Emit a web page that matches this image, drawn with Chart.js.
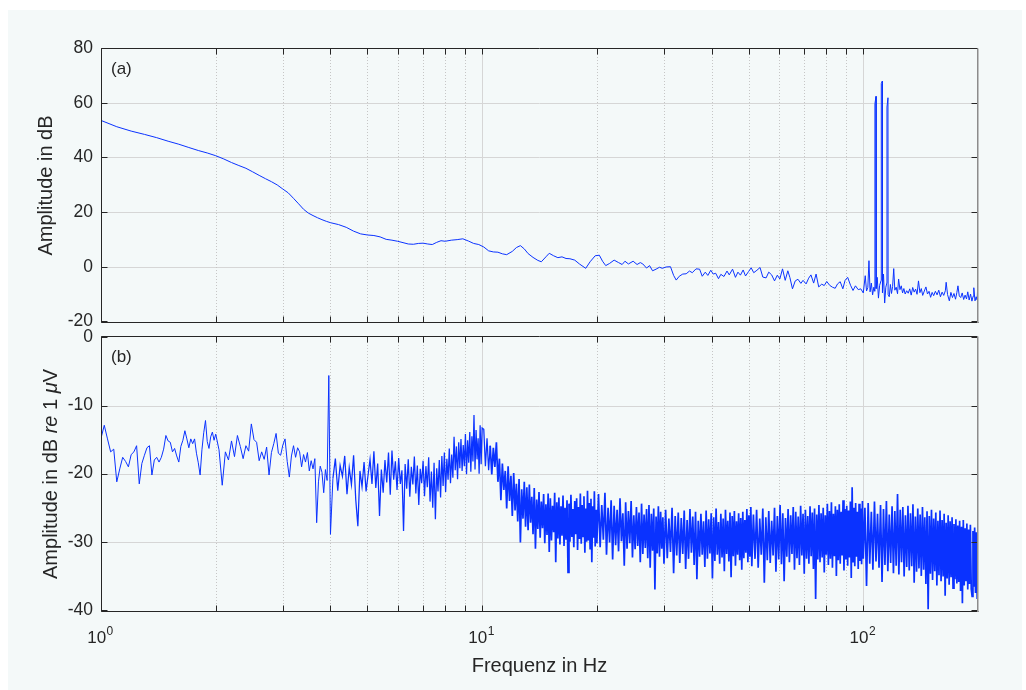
<!DOCTYPE html>
<html>
<head>
<meta charset="utf-8">
<script src="https://cdn.jsdelivr.net/npm/chart.js@4/dist/chart.umd.min.js"></script>
<style>
  html, body { margin: 0; padding: 0; background: #fff; }
  #fig { position: absolute; left: 8px; top: 10px; width: 1014px; height: 680px; background: #f4f9f9; }
  canvas { position: absolute; left: 0; }
  #top { top: 0; }
  #bot { top: 310px; }
</style>
</head>
<body>
<div id="fig"></div>
<canvas id="top" width="1026" height="342"></canvas>
<canvas id="bot" width="1026" height="380"></canvas>
<script>
// axes
var yTicksTop = [-20, 0, 20, 40, 60, 80];
var yTicksBot = [-40, -30, -20, -10, 0];
var xMajor = [1, 10, 100];
var xMinor = [2, 3, 4, 5, 6, 7, 8, 9, 20, 30, 40, 50, 60, 70, 80, 90];
var xTickExp = ['0', '1', '2'];

// (a) amplitude in dB
var freqTop = [
  1,1.1,1.2,1.3,1.4,1.5,1.6,1.7,1.8,1.9,
  2,2.1,2.2,2.3,2.4,2.5,2.6,2.7,2.8,2.9,
  3,3.1,3.2,3.3,3.4,3.5,3.6,3.7,3.8,3.9,
  4,4.2,4.4,4.6,4.8,5,5.2,5.4,5.6,5.8,
  6,6.2,6.4,6.6,6.8,7,7.2,7.4,7.6,7.8,
  8,8.3,8.6,8.9,9.2,9.5,9.8,10.1,10.4,10.7,
  11,11.3,11.6,12,12.3,12.6,12.9,13.2,13.6,14,
  14.3,14.7,15,15.4,15.8,16.2,16.6,17,17.5,18,
  18.7,19.2,19.8,20.3,20.7,21.1,21.6,22.2,22.8,23.3,
  23.7,24.2,24.9,25.5,26,26.4,27,27.5,28,28.6,
  29.2,29.7,30.4,31.2,31.8,32.3,32.9,33.6,34.3,35,
  35.6,36.4,37.2,37.8,38.5,39.1,39.8,40.4,41,41.7,
  42.3,43.1,43.9,44.5,45.4,46.2,46.9,47.6,48.4,49.1,
  50,50.8,51.6,52.6,53.6,54.5,55.6,56.5,57.5,58.5,
  59.5,60.4,61.4,62.4,63.4,64.2,65.2,66.3,67.4,68.6,
  69.5,70.8,71.9,72.9,74.1,75.2,76.4,77.8,79,80.2,
  81.6,83,84.4,85.6,87,88.4,89.6,91,92.6,94,
  95.4,97,98.5,100,101.2,102,102.8,103.5,104.2,105,
  105.8,106.6,107.2,107.3,108,108.1,108.8,109.6,110.4,111.4,
  111.5,112.2,112.3,113,113.8,114.6,115.3,115.4,116.1,116.2,
  117,117.8,118.6,119.4,120.2,121,122,123,123.8,124.8,
  125.8,126.8,127.8,128.8,130,131.2,132.4,133.6,134.8,136,
  137.2,138.4,139.6,140.8,142,143.2,144.6,146,147.4,148.8,
  150.2,151.6,153,154.6,156.2,157.8,159.4,161,162.6,164.2,
  165,166.4,168.2,169.8,171.4,173,174.6,176,177.2,178.6,
  180.2,181.8,183.4,185,186.6,188,189.6,191.2,192.8,194.2,
  195,196.4,197.8,199,200
];
var ampTop = [
  53.5,51.2,49.6,48.4,47.2,45.9,44.8,43.6,42.5,41.6,
  40.6,39.4,38.1,37.0,36.0,34.7,33.4,32.2,31.1,29.9,
  28.4,27.0,25.0,23.0,21.0,19.6,18.7,17.9,17.2,16.6,
  16.1,15.4,14.4,13.0,12.0,11.6,11.4,10.9,10.0,9.7,
  9.3,8.8,8.3,8.2,8.5,8.6,8.3,8.1,8.9,9.5,
  9.3,9.7,9.9,10.2,9.4,8.5,8.1,7.2,5.8,5.4,
  5.3,4.7,4.4,5.6,7.0,7.7,6.5,4.8,3.4,2.3,
  1.8,3.6,4.9,4.0,3.3,3.6,3.0,2.9,2.4,1.0,
  -0.6,1.8,4.0,4.2,2.0,0.4,1.2,2.4,1.5,0.8,
  2.0,1.0,2.0,0.8,1.5,1.0,-0.5,0.4,-1.5,-0.9,
  -0.2,-0.6,-0.1,0.0,-3.2,-4.9,-3.5,-2.7,-2.6,-1.6,
  -2.2,-0.8,-0.9,-3.5,-2.0,-3.2,-1.3,-2.7,-2.4,-4.4,
  -2.8,-3.6,-1.6,-3.0,-0.9,-3.9,-2.0,-3.1,-1.2,-3.4,
  -1.8,-0.4,-2.2,-1.3,-0.3,-3.8,-4.1,-2.0,-3.0,-5.2,
  -3.1,-4.5,-0.8,-5.0,-1.5,-4.0,-8.1,-5.2,-4.6,-6.1,
  -5.0,-6.3,-4.2,-3.0,-6.0,-2.7,-7.4,-6.4,-6.9,-5.4,
  -6.8,-7.5,-7.9,-6.3,-5.5,-8.1,-5.0,-3.9,-6.8,-8.7,
  -7.0,-8.4,-8.1,-9.6,-3.3,-8.9,-7.6,2.2,-9.2,-6.0,
  -10.3,-7.5,-9.0,59.6,62.3,-8.0,-3.9,-11.5,-6.8,-5.0,
  67.0,67.9,-9.5,-2.7,-13.3,-7.5,-6.0,58.4,61.8,-10.2,
  -11.0,-6.5,-9.8,-7.2,-0.7,-8.6,-7.5,-9.9,-4.5,-8.4,
  -7.0,-9.6,-8.0,-10.0,-8.8,-9.7,-8.1,-10.4,-7.6,-9.3,
  -8.2,-10.1,-5.2,-9.5,-8.0,-10.5,-8.9,-7.4,-10.0,-9.0,
  -11.2,-9.4,-10.6,-9.0,-10.3,-8.6,-11.0,-9.3,-10.5,-8.8,
  -5.7,-10.2,-12.5,-9.4,-11.3,-9.8,-11.9,-9.5,-7.0,-10.7,
  -11.3,-9.6,-12.0,-10.4,-11.8,-9.2,-12.2,-10.0,-12.6,-10.8,
  -7.7,-12.5,-11.0,-12.2,-4.5
];

// (b) amplitude in dB re 1 uV, read band by band
var fB1 = [1,1.02,1.04,1.06,1.08,1.1,1.12,1.14,1.16,1.18,1.2,1.22,1.24,1.26,1.28,1.3,1.32,1.34,1.36,1.38,
  1.4,1.42,1.44,1.46,1.48,1.5,1.52,1.54,1.56,1.58,1.6,1.62,1.64,1.66,1.68,1.7,1.72,1.74,1.76,1.78,
  1.8,1.82,1.84,1.86,1.88,1.9,1.92,1.94,1.96,1.98,2];
var aB1 = [-14.8,-12.9,-14.9,-16.8,-16.4,-21.2,-19.3,-17.6,-18.2,-19.0,-17.2,-16.8,-15.9,-21.5,-18.5,-17.3,-16.2,-15.9,-20.2,-18.0,
  -17.6,-18.3,-17.6,-16.4,-14.4,-15.2,-15.4,-16.8,-16.3,-17.4,-18.3,-16.0,-15.1,-13.7,-14.9,-16.2,-14.9,-15.6,-14.9,-17.0,
  -18.4,-20.2,-16.5,-14.0,-12.2,-15.3,-16.3,-14.6,-13.9,-15.1,-14.2];

var fB2 = [2.04,2.08,2.12,2.16,2.2,2.24,2.28,2.32,2.36,2.4,2.44,2.48,2.52,2.56,2.6,2.64,2.68,2.72,2.76,2.8,
  2.84,2.88,2.92,2.96,3,3.04,3.08,3.12,3.16,3.2,3.24,3.28,3.32,3.36,3.4,3.44,3.48,3.52,3.56,3.6,
  3.64,3.68,3.72,3.76,3.8,3.84,3.88,3.92,3.96,4];
var aB2 = [-16.5,-21.7,-16.8,-18.0,-15.2,-17.5,-14.4,-16.0,-17.8,-15.9,-16.7,-12.7,-15.0,-15.4,-18.1,-16.8,-17.9,-16.1,-20.2,-16.9,
  -15.6,-14.1,-17.0,-17.3,-15.8,-14.9,-18.2,-20.5,-17.4,-15.9,-17.6,-16.2,-16.8,-19.0,-17.2,-18.3,-16.9,-19.6,-18.1,-19.3,
  -17.8,-27.2,-21.2,-18.9,-19.8,-22.8,-19.4,-21.0,-5.6,-28.9];

var fB3 = [4.06,4.12,4.18,4.24,4.3,4.36,4.42,4.48,4.54,4.6,4.66,4.72,4.78,4.84,4.9,4.96,5.02,5.08,5.14,5.2,
  5.26,5.32,5.38,5.44,5.5,5.56,5.62,5.68,5.74,5.8,5.86,5.92,5.98,6.04,6.1,6.16,6.22,6.28,6.34,6.4,
  6.46,6.52,6.58,6.64,6.7,6.76,6.82,6.88,6.94,7,7.06,7.12,7.18,7.24,7.3,7.36,7.42,7.48,7.54,7.6,
  7.66,7.72,7.78,7.84,7.9,7.96,8.02,8.08,8.14,8.2,8.26,8.32,8.38,8.44,8.5,8.56,8.62,8.68,8.74,8.8,
  8.86,8.92,8.98,9.04,9.1,9.16,9.22,9.28,9.34,9.4,9.46,9.52,9.58,9.64,9.7,9.76,9.82,9.88,9.94,10];
var aB3 = [-20.7,-17.8,-22.5,-18.8,-20.4,-17.4,-23.0,-19.1,-21.6,-17.3,-23.8,-27.7,-19.6,-21.9,-18.3,-22.6,-20.2,-17.9,-21.5,-16.7,
  -22.1,-18.5,-26.2,-19.4,-22.8,-18.0,-21.3,-16.9,-23.1,-16.6,-20.9,-18.2,-22.4,-17.7,-21.5,-19.5,-28.4,-18.6,-22.2,-17.9,
  -23.4,-19.0,-21.6,-17.5,-22.9,-18.8,-24.6,-19.3,-21.4,-18.1,-23.3,-18.9,-22.0,-17.6,-24.1,-19.7,-25.0,-18.4,-26.7,-19.2,
  -22.6,-18.0,-23.5,-17.4,-21.8,-16.9,-22.7,-17.8,-20.9,-16.3,-21.4,-17.2,-20.6,-14.6,-19.5,-16.0,-20.8,-15.4,-19.2,-14.9,
  -19.6,-15.8,-18.9,-14.2,-20.1,-15.1,-18.4,-13.9,-19.7,-14.5,-18.2,-11.4,-19.4,-13.6,-17.9,-14.8,-20.0,-12.9,-18.6,-13.3];

var fB4 = [10.1,10.2,10.3,10.4,10.5,10.6,10.7,10.8,10.9,11,11.1,11.2,11.3,11.4,11.5,11.6,11.7,11.8,11.9,12,
  12.1,12.2,12.3,12.4,12.5,12.6,12.7,12.8,12.9,13,13.1,13.2,13.3,13.4,13.5,13.6,13.7,13.8,13.9,14,
  14.1,14.2,14.3,14.4,14.5,14.6,14.7,14.8,14.9,15,15.1,15.2,15.3,15.4,15.5,15.6,15.7,15.8,15.9,16,
  16.1,16.2,16.3,16.4,16.5,16.6,16.7,16.8,16.9,17,17.1,17.2,17.3,17.4,17.5,17.6,17.7,17.8,17.9,18,
  18.1,18.2,18.3,18.4,18.5,18.6,18.7,18.8,18.9,19,19.1,19.2,19.3,19.4,19.5,19.6,19.7,19.8,19.9,20];
var aB4 = [-13.5,-18.9,-14.8,-19.5,-15.9,-20.1,-16.2,-19.0,-15.4,-21.2,-17.8,-23.9,-18.5,-22.4,-19.6,-25.1,-18.9,-24.0,-20.3,-26.2,
  -19.9,-25.4,-21.5,-27.0,-20.8,-30.1,-22.3,-26.6,-21.2,-27.8,-22.0,-28.3,-21.6,-27.2,-23.4,-28.9,-22.1,-31.0,-23.8,-28.1,
  -22.7,-29.4,-24.1,-28.0,-23.0,-30.2,-24.5,-29.0,-22.9,-31.5,-23.6,-29.8,-24.7,-28.6,-22.8,-33.0,-24.2,-29.5,-23.5,-30.4,
  -24.8,-29.1,-23.2,-30.6,-25.0,-29.7,-23.9,-34.5,-24.4,-30.0,-23.1,-29.3,-25.2,-30.8,-24.0,-28.9,-23.6,-31.2,-24.9,-29.6,
  -22.9,-30.3,-24.6,-29.2,-23.3,-31.6,-25.1,-30.0,-22.5,-29.8,-24.3,-31.0,-23.7,-33.0,-24.8,-29.4,-22.6,-30.7,-25.3,-30.2];

var fB5 = [20.2,20.4,20.6,20.8,21,21.2,21.4,21.6,21.8,22,22.2,22.4,22.6,22.8,23,23.2,23.4,23.6,23.8,24,
  24.2,24.4,24.6,24.8,25,25.2,25.4,25.6,25.8,26,26.2,26.4,26.6,26.8,27,27.2,27.4,27.6,27.8,28,
  28.2,28.4,28.6,28.8,29,29.2,29.4,29.6,29.8,30];
var aB5 = [-23.0,-30.8,-24.6,-29.7,-22.8,-31.9,-25.0,-30.1,-23.9,-32.6,-24.7,-30.5,-25.3,-31.4,-23.6,-29.9,-25.8,-33.5,-24.2,-31.0,
  -25.5,-30.2,-24.0,-32.3,-26.1,-31.1,-24.9,-30.6,-25.7,-33.0,-24.4,-31.8,-26.0,-30.9,-25.2,-32.4,-24.6,-33.8,-25.9,-31.3,
  -25.1,-37.0,-26.3,-31.7,-24.8,-32.2,-25.6,-31.0,-26.4,-33.2];

var fB6 = [30.3,30.6,30.9,31.2,31.5,31.8,32.1,32.4,32.7,33,33.3,33.6,33.9,34.2,34.5,34.8,35.1,35.4,35.7,36,
  36.3,36.6,36.9,37.2,37.5,37.8,38.1,38.4,38.7,39,39.3,39.6,39.9,40.2,40.5,40.8,41.1,41.4,41.7,42,
  42.3,42.6,42.9,43.2,43.5,43.8,44.1,44.4,44.7,45,45.3,45.6,45.9,46.2,46.5,46.8,47.1,47.4,47.7,48,
  48.3,48.6,48.9,49.2,49.5,49.8,50.1,50.4,50.7,51];
var aB6 = [-25.3,-32.4,-26.6,-31.5,-25.0,-34.6,-26.2,-32.0,-25.7,-33.1,-26.5,-31.8,-25.4,-34.0,-26.8,-32.5,-25.2,-31.6,-26.3,-33.4,
  -25.6,-35.5,-26.9,-32.2,-25.9,-31.9,-27.0,-33.7,-25.4,-32.5,-26.7,-31.7,-25.8,-35.4,-26.4,-32.8,-25.1,-31.9,-27.1,-33.2,
  -25.9,-32.3,-26.6,-34.3,-25.3,-31.8,-26.9,-32.9,-25.7,-35.2,-26.2,-32.1,-25.5,-33.5,-27.0,-31.9,-25.8,-32.7,-26.5,-34.1,
  -25.6,-32.4,-26.8,-31.6,-25.2,-33.0,-26.1,-32.2,-24.9,-33.6];

var fB7 = [51.5,52,52.5,53,53.5,54,54.5,55,55.5,56,56.5,57,57.5,58,58.5,59,59.5,60,60.5,61,
  61.5,62,62.5,63,63.5,64,64.5,65,65.5,66,66.5,67,67.5,68,68.5,69,69.5,70,70.5,71,
  71.5,72,72.5,73,73.5,74,74.5,75,75.5,76,76.5,77,77.5,78,78.5,79,79.5,80,80.5,81,
  81.5,82,82.5,83,83.5,84,84.5,85,85.5,86,86.5,87,87.5,88,88.5,89,89.5,90,90.5,91,
  91.5,92,92.5,93,93.5,94,94.5,95,95.5,96,96.5,97,97.5,98,98.5,99,99.5,100];
var aB7 = [-26.0,-32.5,-25.3,-33.8,-26.6,-31.9,-25.1,-36.0,-26.4,-32.7,-25.5,-33.1,-26.9,-32.0,-25.0,-34.4,-26.2,-32.6,-24.6,-33.3,
  -25.8,-35.8,-26.5,-32.2,-25.2,-33.0,-26.1,-31.8,-24.9,-34.1,-25.6,-32.4,-26.3,-33.4,-24.7,-32.0,-25.9,-34.7,-25.3,-32.5,
  -26.2,-33.2,-24.8,-32.1,-25.7,-34.0,-25.1,-38.4,-26.0,-32.6,-24.6,-33.0,-25.8,-32.3,-25.0,-34.5,-26.1,-31.9,-24.4,-33.4,
  -25.5,-32.5,-24.2,-33.8,-25.9,-32.1,-24.8,-35.0,-25.3,-32.7,-24.5,-33.2,-25.6,-32.0,-23.9,-34.2,-25.2,-32.6,-24.7,-33.5,
  -25.4,-32.3,-24.1,-35.3,-22.0,-32.9,-25.0,-33.6,-24.3,-32.2,-25.6,-34.0,-24.4,-32.8,-25.1,-33.3,-24.0,-32.5];

var fB8 = [101,102,103,104,105,106,107,108,109,110,111,112,113,114,115,116,117,118,119,120,
  121,122,123,124,125,126,127,128,129,130,131,132,133,134,135,136,137,138,139,140,
  141,142,143,144,145,146,147,148,149,150,151,152,153,154,155,156,157,158,159,160,
  161,162,163,164,165,166,167,168,169,170,171,172,173,174,175,176,177,178,179,180,
  181,182,183,184,185,186,187,188,189,190,191,192,193,194,195,196,197,198,199,200];
var aB8 = [-25.0,-36.5,-24.3,-33.2,-25.6,-34.1,-24.1,-32.9,-25.9,-33.8,-24.6,-35.9,-25.2,-33.4,-24.0,-34.3,-26.0,-33.1,-24.8,-34.6,
  -25.5,-33.5,-23.0,-34.8,-25.3,-33.0,-24.9,-35.1,-26.1,-33.7,-24.7,-34.2,-25.8,-33.6,-24.5,-36.0,-26.3,-34.4,-25.1,-33.9,
  -26.0,-35.0,-24.9,-34.1,-26.4,-36.2,-25.5,-39.9,-26.2,-34.7,-25.3,-35.6,-26.6,-34.3,-25.7,-36.4,-26.9,-34.9,-25.4,-35.8,
  -26.8,-35.1,-25.9,-37.9,-27.2,-35.4,-26.1,-36.3,-27.0,-35.2,-26.4,-36.8,-27.4,-35.5,-26.7,-36.1,-27.6,-35.9,-26.9,-37.2,
  -27.8,-39.0,-26.8,-36.4,-28.0,-35.8,-27.3,-37.0,-28.2,-36.2,-27.5,-36.9,-38.0,-28.4,-36.6,-27.9,-37.5,-28.6,-38.4,-27.7];

var freqBot = [].concat(fB1, fB2, fB3, fB4, fB5, fB6, fB7, fB8);
var ampBot = [].concat(aB1, aB2, aB3, aB4, aB5, aB6, aB7, aB8);

var FONT = '"Liberation Sans", Arial, Helvetica, sans-serif';
var INK = '#262626';
var BLUE = '#0a32ff';

function pts(xs, ys) {
  return xs.map(function (f, i) { return { x: f, y: ys[i] }; });
}

function line(ctx, x1, y1, x2, y2) {
  ctx.beginPath();
  ctx.moveTo(x1, y1);
  ctx.lineTo(x2, y2);
  ctx.stroke();
}

function rotatedText(ctx, parts, cx, cy, size) {
  ctx.save();
  ctx.translate(cx, cy);
  ctx.rotate(-Math.PI / 2);
  ctx.textAlign = 'left';
  ctx.textBaseline = 'middle';
  ctx.fillStyle = INK;
  var total = 0;
  parts.forEach(function (p) {
    ctx.font = (p[1] ? 'italic ' : '') + size + 'px ' + FONT;
    total += ctx.measureText(p[0]).width;
  });
  var cur = -total / 2;
  parts.forEach(function (p) {
    ctx.font = (p[1] ? 'italic ' : '') + size + 'px ' + FONT;
    ctx.fillText(p[0], cur, 0);
    cur += ctx.measureText(p[0]).width;
  });
  ctx.restore();
}

// grid, box, ticks and texts in the MATLAB look
function makeFrame(o) {
  return {
    id: 'frame' + o.tag,
    beforeDatasetsDraw: function (chart) {
      var ctx = chart.ctx, a = chart.chartArea, x = chart.scales.x, y = chart.scales.y;
      ctx.save();
      ctx.lineWidth = 1;
      ctx.strokeStyle = '#d6d6d6';
      o.yTicks.forEach(function (v) {
        var py = Math.round(y.getPixelForValue(v)) + 0.5;
        if (py > a.top + 2 && py < a.bottom - 2) line(ctx, a.left, py, a.right, py);
      });
      xMajor.forEach(function (v) {
        var px = Math.round(x.getPixelForValue(v)) + 0.5;
        if (px > a.left + 2) line(ctx, px, a.top, px, a.bottom);
      });
      ctx.strokeStyle = '#c6c6c6';
      ctx.setLineDash([1, 2]);
      xMinor.forEach(function (v) {
        var px = Math.round(x.getPixelForValue(v)) + 0.5;
        line(ctx, px, a.top, px, a.bottom);
      });
      ctx.restore();
    },
    afterDatasetsDraw: function (chart) {
      var ctx = chart.ctx, a = chart.chartArea, x = chart.scales.x, y = chart.scales.y;
      var L = Math.round(a.left) + 0.5, R = Math.round(a.right) - 0.5;
      var T = Math.round(a.top) + 0.5, B = Math.round(a.bottom) - 0.5;
      ctx.save();
      ctx.lineWidth = 1;
      ctx.strokeStyle = INK;
      line(ctx, L, T, R, T);
      line(ctx, L, T, L, B);
      line(ctx, L, B, R + 1, B);
      // ticks
      o.yTicks.forEach(function (v) {
        var py = Math.round(y.getPixelForValue(v)) + 0.5;
        line(ctx, L, py, L + 6, py);
        line(ctx, R - 6, py, R, py);
      });
      xMajor.concat(xMinor).forEach(function (v) {
        var px = Math.round(x.getPixelForValue(v)) + 0.5;
        line(ctx, px, B, px, B - 6);
        line(ctx, px, T, px, T + 6);
      });
      ctx.strokeStyle = '#8c8c8c';
      ctx.lineWidth = 1.5;
      line(ctx, R + 0.25, T, R + 0.25, B + 0.5);

      ctx.fillStyle = INK;
      ctx.font = '17px ' + FONT;
      ctx.textAlign = 'left';
      ctx.textBaseline = 'middle';
      ctx.fillText(o.label, a.left + 10, a.top + 21);

      rotatedText(ctx, o.title, o.titleX, (a.top + a.bottom) / 2, 20);

      if (o.xLabels) {
        xMajor.forEach(function (v, i) {
          var px = x.getPixelForValue(v);
          ctx.font = '17px ' + FONT;
          var w1 = ctx.measureText('10').width;
          ctx.font = '12px ' + FONT;
          var w2 = ctx.measureText(xTickExp[i]).width;
          var x0 = px - (w1 + w2) / 2 - 1;
          ctx.textBaseline = 'alphabetic';
          ctx.font = '17px ' + FONT;
          ctx.fillText('10', x0, a.bottom + 31);
          ctx.font = '12px ' + FONT;
          ctx.fillText(xTickExp[i], x0 + w1 + 0.5, a.bottom + 23);
        });
        ctx.font = '20px ' + FONT;
        ctx.textAlign = 'center';
        ctx.textBaseline = 'alphabetic';
        ctx.fillText('Frequenz in Hz', (a.left + a.right) / 2, a.bottom + 60);
      }
      ctx.restore();
    }
  };
}

// thicker strokes where the spectrum is a dense noise band
function bandWidth(c) {
  var f = c.p0.parsed.x;
  if (f >= 10.5) return 1.7;
  if (f >= 4.05) return 1.25;
  return 1;
}

function makeChart(id, freqs, amps, yMin, yMax, yTicks, padTop, xHeight, frame, segWidth) {
  return new Chart(document.getElementById(id), {
    type: 'line',
    data: {
      datasets: [{
        data: pts(freqs, amps),
        borderColor: BLUE,
        borderWidth: 1,
        pointRadius: 0,
        tension: 0,
        fill: false,
        segment: segWidth ? { borderWidth: segWidth } : {}
      }]
    },
    options: {
      responsive: false,
      animation: false,
      devicePixelRatio: 1,
      events: [],
      layout: { padding: { left: 0, right: 48, top: padTop, bottom: 0 } },
      plugins: { legend: { display: false }, tooltip: { enabled: false } },
      scales: {
        x: {
          type: 'logarithmic', min: 1, max: 200,
          grid: { display: false, drawTicks: false },
          border: { display: false },
          ticks: { display: false },
          afterFit: function (s) { s.height = xHeight; }
        },
        y: {
          min: yMin, max: yMax,
          grid: { display: false, drawTicks: false },
          border: { display: false },
          afterBuildTicks: function (s) { s.ticks = yTicks.map(function (v) { return { value: v }; }); },
          ticks: { padding: 8, color: INK, font: { family: FONT, size: 17.5 } },
          afterFit: function (s) { s.width = 101; }
        }
      }
    },
    plugins: [frame]
  });
}

makeChart('top', freqTop, ampTop, -20.6, 80, yTicksTop, 48, 19,
  makeFrame({ tag: 'A', label: '(a)', yTicks: yTicksTop, titleX: 46, xLabels: false,
    title: [['Amplitude in dB', false]] }), null);

makeChart('bot', freqBot, ampBot, -40.3, 0.2, yTicksBot, 26, 78,
  makeFrame({ tag: 'B', label: '(b)', yTicks: yTicksBot, titleX: 51, xLabels: true,
    title: [['Amplitude in dB ', false], ['re', true], [' 1 ', false], ['\u03bc', true], ['V', false]] }), bandWidth);
</script>
</body>
</html>
